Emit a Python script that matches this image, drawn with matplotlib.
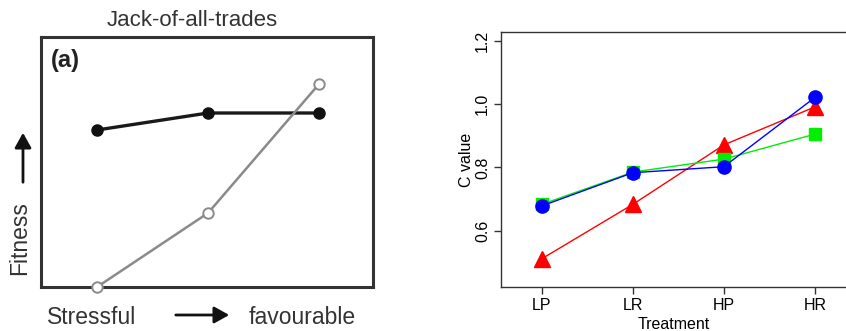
import matplotlib
matplotlib.use("Agg")
import matplotlib.pyplot as plt

plt.rcParams['font.family'] = ['Liberation Sans', 'DejaVu Sans']

# ---- Panel (a) data (conceptual figure) ----
env_x = [1, 2, 3]
jack_fit = [6.28, 6.96, 6.96]
spec_fit = [0.0, 2.96, 8.12]

# ---- Right panel data ----
treatments = ["LP", "LR", "HP", "HR"]
red_vals = [0.511, 0.683, 0.871, 0.991]
green_vals = [0.683, 0.785, 0.826, 0.905]
blue_vals = [0.678, 0.783, 0.802, 1.021]
yticks = [0.6, 0.8, 1.0, 1.2]

W, H = 846, 331
fig = plt.figure(figsize=(W / 100, H / 100), dpi=100)

def rect(l, t, r, b):
    return [l / W, 1 - b / H, (r - l) / W, (b - t) / H]

# ---------- Left panel ----------
axa = fig.add_axes(rect(41, 37, 373, 287))
axa.set_xlim(0.495, 3.486)
axa.set_ylim(0, 10)
axa.plot(env_x, jack_fit, color='#1a1a1a', lw=2.4, marker='o', ms=8,
         mfc='#111111', mec='#111111', zorder=3)
axa.plot(env_x, spec_fit, color='#8a8a8a', lw=1.8, marker='o', ms=7.5,
         mfc='white', mec='#8a8a8a', mew=1.4, zorder=3, clip_on=False)
axa.set_xticks([])
axa.set_yticks([])
for s in axa.spines.values():
    s.set_linewidth(2.2)
    s.set_color('#333333')
axa.text(0.455, 1.025, "Jack-of-all-trades", transform=axa.transAxes,
         ha='center', va='bottom', fontsize=16, color='#333333')
axa.text(0.03, 0.95, "(a)", transform=axa.transAxes, ha='left', va='top',
         fontsize=17, fontweight='bold', color='#222222')

fig.text(92 / W, 1 - 317 / H, "Stressful", ha='center', va='center',
         fontsize=16.5, color='#333333')
fig.text(302 / W, 1 - 317 / H, "favourable", ha='center', va='center',
         fontsize=16.5, color='#333333')
fig.text(20 / W, 1 - 238 / H, "Fitness", ha='center', va='center',
         fontsize=16.5, color='#333333', rotation=90)
fig.add_artist(matplotlib.patches.FancyArrowPatch(
    (173 / W, 1 - 315 / H), (232 / W, 1 - 315 / H), transform=fig.transFigure,
    arrowstyle='-|>,head_length=9,head_width=5', color='#111111', lw=2,
    mutation_scale=1))
fig.add_artist(matplotlib.patches.FancyArrowPatch(
    (23 / W, 1 - 185 / H), (23 / W, 1 - 130 / H), transform=fig.transFigure,
    arrowstyle='-|>,head_length=9,head_width=5', color='#111111', lw=2,
    mutation_scale=1))

# ---------- Right panel ----------
ax = fig.add_axes(rect(501, 32, 846, 287))
x = list(range(1, len(treatments) + 1))
ax.plot(x, red_vals, color='red', lw=1, marker='^', ms=11, mec='red', mfc='red', zorder=3)
ax.plot(x, green_vals, color='#00ee00', lw=1, marker='s', ms=8.5, mec='#00ee00', mfc='#00ee00', zorder=3)
ax.plot(x, blue_vals, color='blue', lw=1, marker='o', ms=9.5, mec='blue', mfc='blue', zorder=4)
ax.set_xlim(0.553, 4.34)
ax.set_ylim(0.422, 1.2275)
ax.set_xticks(x)
ax.set_xticklabels(treatments, fontsize=11.5)
ax.set_yticks(yticks)
ax.set_yticklabels([f"{v:.1f}" for v in yticks], fontsize=11.5, rotation=90, va='center')
ax.tick_params(axis='both', length=5, width=1, color='#333333', pad=3)
ax.spines['right'].set_visible(False)
for k in ['left', 'top', 'bottom']:
    ax.spines[k].set_color('#333333')
    ax.spines[k].set_linewidth(1)
ax.set_xlabel("Treatment", fontsize=11.5, labelpad=3)
ax.set_ylabel("C value", fontsize=11.5, labelpad=1)

fig.savefig("out.png", dpi=100)
